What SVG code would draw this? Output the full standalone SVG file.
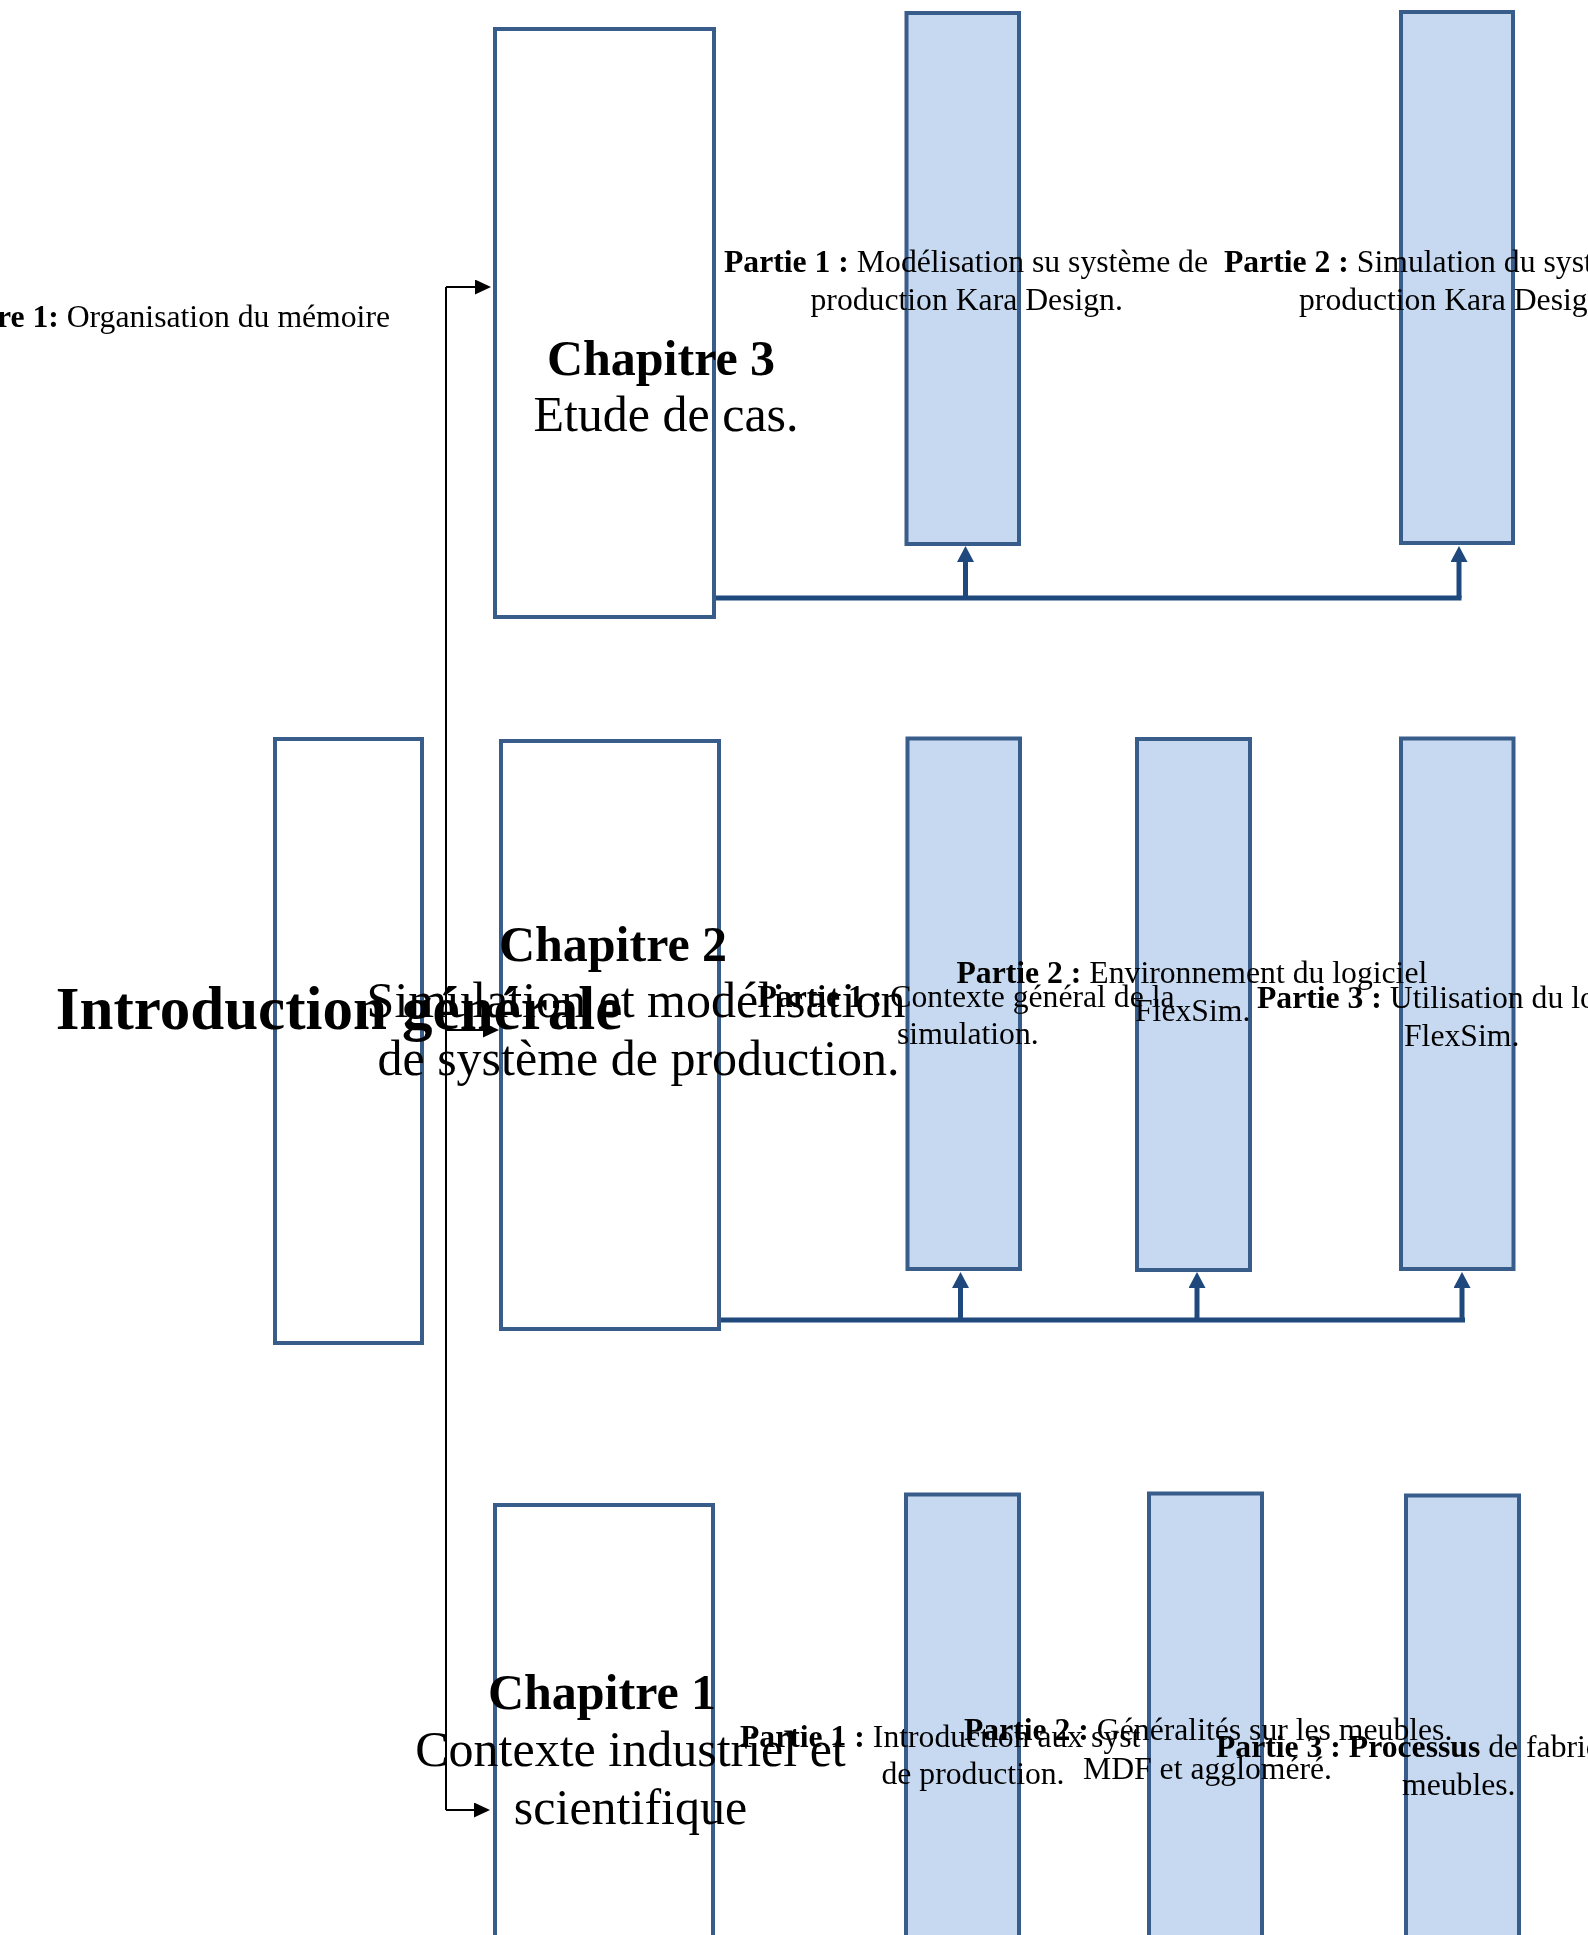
<svg xmlns="http://www.w3.org/2000/svg" width="1588" height="1935" viewBox="0 0 1588 1935">
<style>
.box{fill:#ffffff;stroke:#385D8A;stroke-width:4;mix-blend-mode:multiply}
.part{fill:#C6D9F1;stroke:#385D8A;stroke-width:4;mix-blend-mode:multiply}
text{font-family:"Liberation Serif","Times New Roman",serif;fill:#000}
.ch{font-size:50px;text-anchor:middle}
.pt{font-size:31.7px}
.b{font-weight:bold}
.blue{fill:none;stroke:#1F497D;stroke-width:5}
.blk{fill:none;stroke:#000;stroke-width:2}
</style>
<defs>
<marker id="ab" markerUnits="userSpaceOnUse" viewBox="0 0 16 17" refX="0" refY="8.5" markerWidth="16" markerHeight="17" orient="auto"><path d="M0,0 L16,8.5 L0,17 z" fill="#1F497D"/></marker>
<marker id="ak" markerUnits="userSpaceOnUse" viewBox="0 0 16 15" refX="0" refY="7.5" markerWidth="16" markerHeight="15" orient="auto"><path d="M0,0 L16,7.5 L0,15 z" fill="#000"/></marker>
</defs>
<rect x="0" y="0" width="1588" height="1935" fill="#ffffff"/>
<text class="pt" x="390" y="327" text-anchor="end"><tspan class="b">re 1:</tspan> Organisation du mémoire</text>
<g id="connectors">
<path class="blk" d="M446 287 V1810"/>
<path class="blk" d="M446 287 H475" marker-end="url(#ak)"/>
<path class="blk" d="M446 1030 H483" marker-end="url(#ak)"/>
<path class="blk" d="M446 1810 H474" marker-end="url(#ak)"/>
<path class="blue" d="M716 598 H1461.5"/>
<path class="blue" d="M965.5 598 V562" marker-end="url(#ab)"/>
<path class="blue" d="M1459 598 V562" marker-end="url(#ab)"/>
<path class="blue" d="M721 1320 H1465"/>
<path class="blue" d="M960.5 1320 V1288" marker-end="url(#ab)"/>
<path class="blue" d="M1197 1320 V1288" marker-end="url(#ab)"/>
<path class="blue" d="M1462 1320 V1288" marker-end="url(#ab)"/>
</g>
<g id="intro">
<rect class="box" x="275" y="739" width="147" height="604"/>
<text class="b" x="339" y="1029" font-size="61" text-anchor="middle">Introduction générale</text>
</g>
<g id="chapitre3">
<rect class="box" x="495" y="29" width="219" height="588"/>
<text class="ch"><tspan class="b" x="661" y="375">Chapitre 3</tspan><tspan x="666" y="431">Etude de cas.</tspan></text>
</g>
<g id="chapitre2">
<rect class="box" x="501" y="741" width="218" height="588"/>
<text class="ch"><tspan class="b" x="613" y="961">Chapitre 2</tspan><tspan x="636" y="1017">Simulation et modélisation</tspan><tspan x="638.5" y="1075">de système de production.</tspan></text>
</g>
<g id="chapitre1">
<rect class="box" x="495" y="1505" width="218" height="500"/>
<text class="ch"><tspan class="b" x="602" y="1709">Chapitre 1</tspan><tspan x="630.5" y="1766">Contexte industriel et</tspan><tspan x="630.5" y="1824">scientifique</tspan></text>
</g>
<g id="ch3-partie1">
<rect class="part" x="906.5" y="13" width="112.5" height="531"/>
<text class="pt"><tspan x="724" y="271.5"><tspan class="b">Partie 1 :</tspan> Modélisation su système de</tspan><tspan x="810.5" y="310">production Kara Design.</tspan></text>
</g>
<g id="ch3-partie2">
<rect class="part" x="1401" y="12" width="112" height="531"/>
<text class="pt"><tspan x="1224" y="271.5"><tspan class="b">Partie 2 :</tspan> Simulation du système de</tspan><tspan x="1299" y="310">production Kara Design.</tspan></text>
</g>
<g id="ch2-partie1">
<rect class="part" x="907.5" y="738.5" width="112.5" height="530.5"/>
<text class="pt"><tspan x="757.5" y="1007"><tspan class="b">Partie 1 :</tspan> Contexte général de la</tspan><tspan x="897" y="1044">simulation.</tspan></text>
</g>
<g id="ch2-partie2">
<rect class="part" x="1137" y="739" width="113" height="531"/>
<text class="pt"><tspan x="956.5" y="983"><tspan class="b">Partie 2 :</tspan> Environnement du logiciel</tspan><tspan x="1135" y="1021">FlexSim.</tspan></text>
</g>
<g id="ch2-partie3">
<rect class="part" x="1401" y="738.5" width="112.5" height="530.5"/>
<text class="pt"><tspan x="1257" y="1008"><tspan class="b">Partie 3 :</tspan> Utilisation du logiciel</tspan><tspan x="1404" y="1046">FlexSim.</tspan></text>
</g>
<g id="ch1-partie1">
<rect class="part" x="906" y="1494.5" width="113" height="500"/>
<text class="pt"><tspan x="740" y="1747"><tspan class="b">Partie 1 :</tspan> Introduction aux syst</tspan><tspan x="881.5" y="1784">de production.</tspan></text>
</g>
<g id="ch1-partie2">
<rect class="part" x="1149" y="1493.5" width="113" height="500"/>
<text class="pt"><tspan x="964" y="1740"><tspan class="b">Partie 2 :</tspan> Généralités sur les meubles.</tspan><tspan x="1083" y="1779">MDF et aggloméré.</tspan></text>
</g>
<g id="ch1-partie3">
<rect class="part" x="1406" y="1495.5" width="113" height="500"/>
<text class="pt"><tspan x="1216" y="1757"><tspan class="b">Partie 3 : Processus</tspan> de fabrication des</tspan><tspan x="1402" y="1795">meubles.</tspan></text>
</g>
</svg>
